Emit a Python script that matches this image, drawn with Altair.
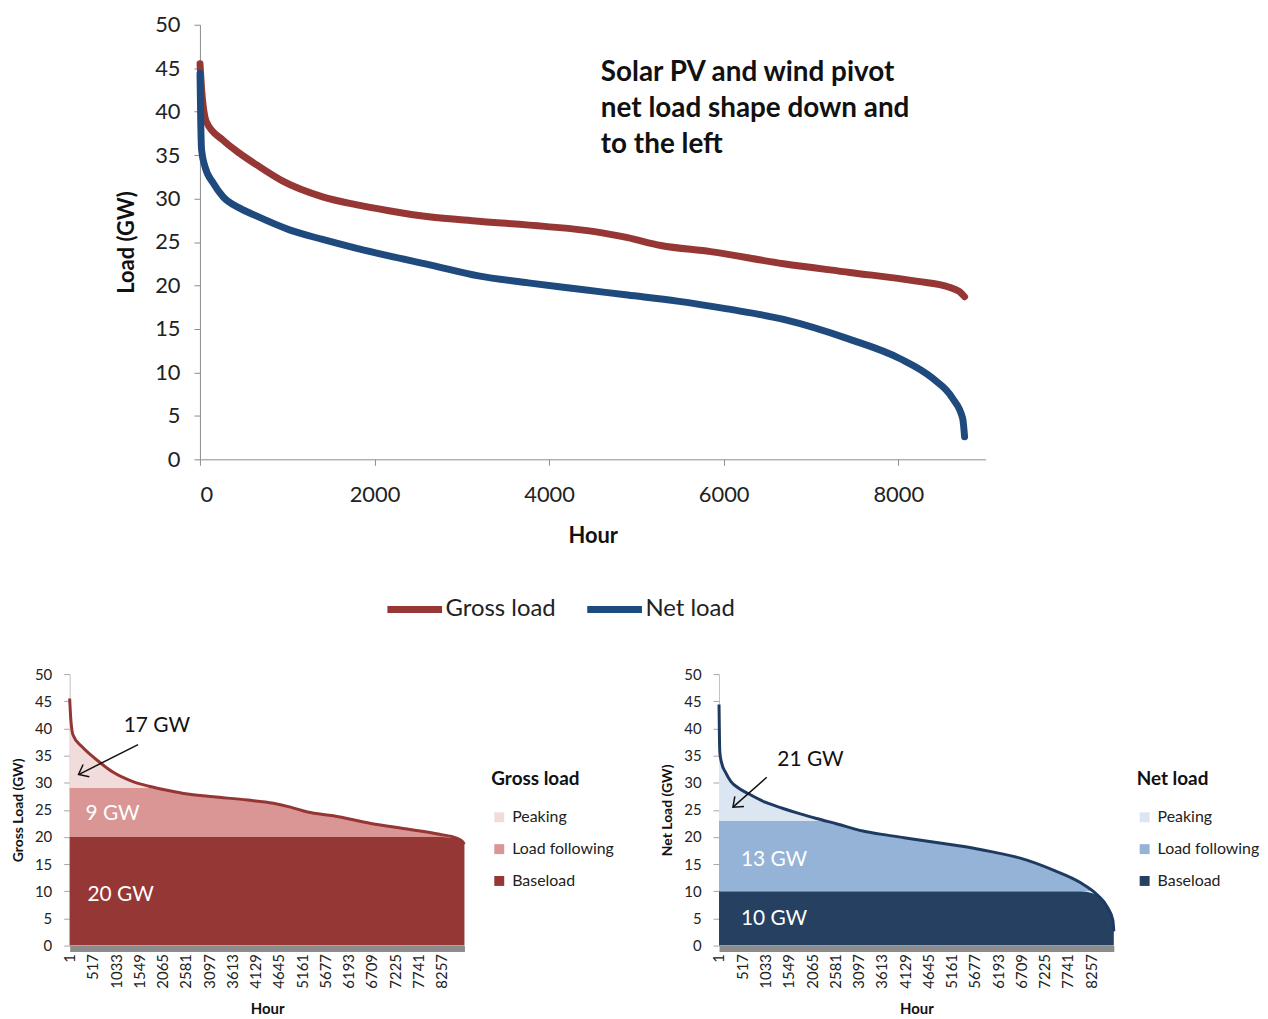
import math
import altair as alt
import pandas as pd

# ---------------- data ----------------
gross_hours = [1, 20, 57, 76, 266, 456, 646, 950, 1405, 1786, 2165, 2621, 3191,
               3951, 4521, 4900, 5280, 5850, 6686, 7446, 8205, 8585, 8700, 8760]
gross_load = [45.5, 42.5, 39.4, 38.8, 36.7, 35.2, 33.9, 32.0, 30.2, 29.3, 28.6, 27.9, 27.4,
              26.8, 26.2, 25.5, 24.6, 23.9, 22.5, 21.5, 20.5, 19.8, 19.3, 18.7]

net_hours = [1, 10, 19, 57, 152, 266, 456, 646, 1026, 1405, 1786, 2165, 2621, 3191,
             3761, 4330, 4900, 5470, 6040, 6686, 7446, 8016, 8396, 8624, 8738, 8760]
net_load = [44.4, 38.5, 35.6, 33.7, 31.8, 30.2, 28.9, 28.0, 26.4, 25.3, 24.3, 23.4, 22.4, 21.1,
            20.3, 19.6, 18.9, 18.2, 17.3, 16.1, 13.8, 11.6, 9.3, 7.0, 4.7, 2.6]

series_names = ["Gross load", "Net load"]
series_colors = ["#963735", "#1f4a7e"]

annotation_lines = ["Solar PV and wind pivot", "net load shape down and", "to the left"]

top_x_ticks = [0, 2000, 4000, 6000, 8000]
y_ticks = [0, 5, 10, 15, 20, 25, 30, 35, 40, 45, 50]
bottom_x_ticks = [1, 517, 1033, 1549, 2065, 2581, 3097, 3613, 4129, 4645,
                  5161, 5677, 6193, 6709, 7225, 7741, 8257]

band_names = ["Peaking", "Load following", "Baseload"]
gross_band_colors = ["#f2dcdb", "#d99694", "#953735"]
net_band_colors = ["#dce6f2", "#95b3d7", "#254061"]
gross_levels = [29, 20]   # peaking above, baseload below
net_levels = [23, 10]
gross_labels = ["17 GW", "9 GW", "20 GW"]
net_labels = ["21 GW", "13 GW", "10 GW"]

FONT = "Lato"
AXIS_GRAY = "#8c8c8c"
TXT = "#222222"

# ---------------- top line chart ----------------
TW, TH = 790, 437
df_top = pd.concat([
    pd.DataFrame({"hour": gross_hours, "load": gross_load, "series": series_names[0]}),
    pd.DataFrame({"hour": net_hours, "load": net_load, "series": series_names[1]}),
])
top_xs = alt.Scale(domain=[0, 9000], nice=False)
top_ys = alt.Scale(domain=[0, 50], nice=False)

top_x = alt.X("hour:Q", scale=top_xs,
              axis=alt.Axis(values=top_x_ticks, title="Hour", grid=False, format="d",
                            labelFont=FONT, labelFontSize=22, labelColor=TXT, labelPadding=19,
                            titleFont=FONT, titleFontSize=22, titleFontWeight="bold",
                            titleColor="#111111", titlePadding=21, labelOverlap=False,
                            domainColor=AXIS_GRAY, tickColor=AXIS_GRAY, tickSize=6))
top_y = alt.Y("load:Q", scale=top_ys,
              axis=alt.Axis(values=y_ticks, title="Load (GW)", grid=False,
                            labelFont=FONT, labelFontSize=22, labelColor=TXT, labelPadding=14,
                            titleFont=FONT, titleFontSize=22, titleFontWeight="bold",
                            titleColor="#111111", titlePadding=16, labelOverlap=False,
                            domainColor=AXIS_GRAY, tickColor=AXIS_GRAY, tickSize=6))

top_lines = alt.Chart(df_top).mark_line(
    strokeWidth=7, strokeCap="round", strokeJoin="round", interpolate="monotone"
).encode(
    x=top_x, y=top_y,
    color=alt.Color("series:N",
                    scale=alt.Scale(domain=series_names, range=series_colors),
                    legend=alt.Legend(orient="none", legendX=185, legendY=557,
                                      direction="horizontal", title=None,
                                      symbolType="stroke", symbolSize=3025,
                                      symbolStrokeWidth=7, labelFont=FONT,
                                      labelFontSize=24, labelColor=TXT,
                                      labelOffset=0, columnPadding=17)),
    detail="series:N",
)

ann_df = pd.DataFrame({"text": annotation_lines, "hour": [4593] * 3,
                       "load": [44.4, 40.3, 36.2]})
top_text = alt.Chart(ann_df).mark_text(
    align="left", baseline="middle", font=FONT, fontSize=28, fontWeight="bold",
    color="#111111"
).encode(x=top_x, y=top_y, text="text:N")

top_chart = alt.layer(top_lines, top_text).properties(width=TW, height=TH)

spacer = alt.Chart(pd.DataFrame({"v": [0]})).mark_text(text="").encode(
    x=alt.X("v:Q", axis=None), y=alt.Y("v:Q", axis=None)
).properties(width=42, height=1)

top_row = alt.hconcat(spacer, top_chart, spacing=4).resolve_scale(color="independent")

# ---------------- bottom area charts ----------------
BW, BH = 397, 273
XDOM = [1, 8760]


def bands(hours, load, hi, lo):
    rows = []
    for h, v in zip(hours, load):
        rows.append({"hour": h, "band": band_names[2], "y0": 0, "y1": min(v, lo)})
        rows.append({"hour": h, "band": band_names[1], "y0": lo, "y1": min(max(v, lo), hi)})
        rows.append({"hour": h, "band": band_names[0], "y0": hi, "y1": max(v, hi)})
    return pd.DataFrame(rows)


def bottom_chart(hours, load, levels, colors, line_color, legend_title, ytitle,
                 labels, big_pos, arrow, mid_pos, low_pos, field, legend_x, label_size):
    xs = alt.Scale(domain=XDOM, nice=False, zero=False)
    ys = alt.Scale(domain=[0, 50], nice=False)
    x_enc = alt.X("hour:Q", scale=xs,
                  axis=alt.Axis(values=bottom_x_ticks, title="Hour", grid=False, format="d",
                                labelAngle=-90, labelFont=FONT, labelFontSize=15,
                                labelColor=TXT, labelPadding=5, ticks=False, tickSize=0,
                                titleFont=FONT, titleFontSize=15, titleFontWeight="bold",
                                titleColor="#111111", titlePadding=13,
                                domainColor=AXIS_GRAY, domainWidth=6, offset=3,
                                labelOverlap=False, labelFlush=False))
    y_enc = alt.Y("y1:Q", scale=ys,
                  axis=alt.Axis(values=y_ticks, title=ytitle, grid=False,
                                labelFont=FONT, labelFontSize=15, labelColor=TXT,
                                labelPadding=12, titleFont=FONT, titleFontSize=14,
                                titleFontWeight="bold", titleColor="#111111",
                                titlePadding=9, domainColor="#bfbfbf", labelOverlap=False,
                                tickColor="#a6a6a6", tickSize=6))

    df = bands(hours, load, levels[0], levels[1]).rename(columns={"band": field})
    areas = alt.Chart(df).mark_area(interpolate="monotone").encode(
        x=x_enc, y=y_enc, y2="y0:Q",
        color=alt.Color(f"{field}:N",
                        scale=alt.Scale(domain=band_names, range=colors),
                        legend=alt.Legend(orient="none", legendX=legend_x, legendY=97,
                                          title=legend_title, titleFont=FONT,
                                          titleFontSize=19, titleFontWeight="bold",
                                          titleColor="#111111", titlePadding=20,
                                          symbolType="square", symbolSize=100,
                                          symbolStrokeWidth=0,
                                          labelFont=FONT, labelFontSize=label_size,
                                          labelColor=TXT, rowPadding=16,
                                          labelOffset=5)),
    )
    ldf = pd.DataFrame({"hour": hours, "y1": load})
    line = alt.Chart(ldf).mark_line(color=line_color, strokeWidth=3,
                                    interpolate="monotone").encode(x=x_enc, y=y_enc)

    tdf_black = pd.DataFrame({"hour": [big_pos[0]], "y1": [big_pos[1]], "t": [labels[0]]})
    t_black = alt.Chart(tdf_black).mark_text(
        font=FONT, fontSize=21, color="#111111", align="center", baseline="middle"
    ).encode(x=x_enc, y=y_enc, text="t:N")

    tdf_white = pd.DataFrame({"hour": [mid_pos[0], low_pos[0]],
                              "y1": [mid_pos[1], low_pos[1]],
                              "t": [labels[1], labels[2]]})
    t_white = alt.Chart(tdf_white).mark_text(
        font=FONT, fontSize=21, color="white", align="left", baseline="middle"
    ).encode(x=x_enc, y=y_enc, text="t:N")

    (h0, g0), (h1, g1) = arrow
    adf = pd.DataFrame({"hour": [h0], "y1": [g0], "hour2": [h1], "y2": [g1]})
    rule = alt.Chart(adf).mark_rule(color="#111111", strokeWidth=1.5).encode(
        x=x_enc, y=y_enc, x2="hour2:Q", y2="y2:Q")
    px_dx = (h1 - h0) * BW / (XDOM[1] - XDOM[0])
    px_dy = -(g1 - g0) * BH / 50.0
    ang = math.degrees(math.atan2(px_dx, -px_dy)) % 360
    hdf = pd.DataFrame({"hour": [h1], "y1": [g1]})
    head = alt.Chart(hdf).mark_point(
        shape="M-0.8,1L0,0L0.8,1", filled=False, color="#111111", strokeWidth=1.5,
        size=300, angle=ang, opacity=1
    ).encode(x=x_enc, y=y_enc)

    return alt.layer(areas, line, rule, head, t_black, t_white).properties(
        width=BW, height=BH)


left = bottom_chart(gross_hours, gross_load, gross_levels, gross_band_colors, "#943634",
                    "Gross load", "Gross Load (GW)", gross_labels,
                    (1937, 40.5), ((1519, 37.0), (198, 31.5)),
                    (352, 24.2), (396, 9.3), "band_g", 424, 16)
right = bottom_chart(net_hours, net_load, net_levels, net_band_colors, "#1f3a60",
                     "Net load", "Net Load (GW)", net_labels,
                     (2031, 34.2), ((1060, 31.0), (310, 25.5)),
                     (486, 15.75), (486, 4.8), "band_n", 420, 16)

bottom_row = alt.hconcat(left, right, spacing=46).resolve_scale(color="independent")

chart = alt.vconcat(top_row, bottom_row, spacing=44).resolve_scale(
    color="independent"
).properties(
    padding={"left": 3, "top": 3, "right": 0, "bottom": 0},
    background="white",
).configure_view(stroke=None, strokeWidth=0).configure_axis(labelOverlap=False)

chart.save("out.html", embed_options={"renderer": "svg", "actions": False})
